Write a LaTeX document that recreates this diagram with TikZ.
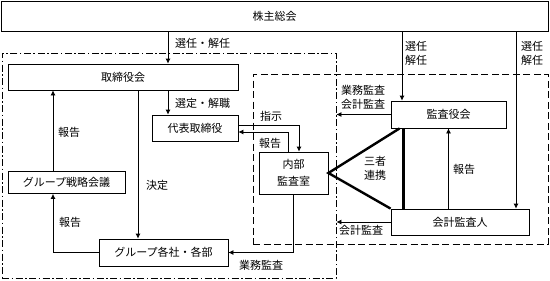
\documentclass[tikz,border=0pt]{standalone}
\usepackage{fontspec}
\newfontfamily\jpfont{Noto Sans CJK JP}
\usetikzlibrary{arrows.meta,calc,positioning}

\begin{document}
\begin{tikzpicture}[
  x=1pt,y=-1pt,
  font=\jpfont\fontsize{11}{14}\selectfont,
  organ/.style={draw,line width=0.8pt,fill=white,inner sep=0pt,align=center},
  tag/.style={anchor=west,inner sep=0pt,align=left},
  execarea/.style={draw,line width=0.8pt,inner sep=0pt,
    dash pattern=on 7pt off 2.5pt on 1.5pt off 2.5pt},
  auditarea/.style={draw,line width=0.8pt,inner sep=0pt,
    dash pattern=on 7pt off 3.5pt},
  arr/.style={-{Latex[length=5pt,width=5pt]},line width=0.8pt},
  link/.style={line width=2.4pt}
]
\useasboundingbox (0,0) rectangle (550,281);

% Areas behind the organs.
\node[execarea,minimum width=334pt,minimum height=225pt] (exec) at (169,165.5) {};
\node[auditarea,minimum width=295pt,minimum height=170pt] (audit) at (400.5,159) {};

% Organs.
\node[organ,minimum width=547pt,minimum height=30pt] (sh) at (274.5,16) {株主総会};
\node[organ,minimum width=230pt,minimum height=26pt] (board) at (123,77) {取締役会};
\node[organ,minimum width=86pt,minimum height=26pt] (rep) at (195,128) {代表取締役};
\node[organ,minimum width=69pt,minimum height=42pt] (naibu) at (293.5,173)
  {内部\\[3pt]監査室};
\node[organ,minimum width=115pt,minimum height=27pt] (kansa) at (448.5,114.5) {監査役会};
\node[organ,minimum width=138pt,minimum height=26pt] (kaikei) at (460,222) {会計監査人};
\node[organ,minimum width=117pt,minimum height=22pt] (strat) at (66.5,182.5) {グループ戦略会議};
\node[organ,minimum width=129pt,minimum height=27pt] (group) at (163.5,252.5) {グループ各社・各部};

% Columns of the vertical connectors.
\coordinate (colA) at (168,0);
\coordinate (colB) at (138,0);
\coordinate (colC) at (53,0);
\coordinate (colD) at (402,0);
\coordinate (colE) at (516,0);

% Executive side.
\draw[arr] (sh.south -| colA) -- (board.north -| colA);
\draw[arr] (board.south -| colA) -- (rep.north -| colA);
\draw[arr] (board.south -| colB) -- (group.north -| colB);
\draw[arr] (strat.north -| colC) -- (board.south -| colC);
\draw[arr] (group.west) -| (colC |- strat.south);
\draw[arr] ([yshift=3pt]rep.east) -| ([xshift=5.5pt]naibu.north);
\draw[arr] ([xshift=-5.5pt]naibu.north) |- ([yshift=-4pt]rep.east);
\draw[arr] (naibu.south) |- (group.east);

% Audit side.
\draw[arr] (sh.south -| colD) -- (kansa.north -| colD);
\draw[arr] (sh.south -| colE) -- (kaikei.north -| colE);
\draw[arr] (kansa.west) -- (kansa.west -| exec.east);
\draw[arr] (kaikei.west) -- (kaikei.west -| exec.east);
\draw[arr] (kaikei.north -| kansa.south) -- (kansa.south);
\draw[link] ([xshift=9pt]kansa.south west) -- (naibu.east) -- (kaikei.north west);
\draw[link] ([xshift=13pt]kansa.south west) -- ([xshift=13pt]kansa.south west |- kaikei.north);

% Connector labels.
\node[tag] (tSel) at (175,43) {選任・解任};
\node[tag] (tDis) at (175,103) {選定・解職};
\node[tag] (tRepA) at (58,132) {報告};
\node[tag] (tDec) at (146,185) {決定};
\node[tag] (tRepB) at (59,222) {報告};
\node[tag] (tOrd) at (260,116) {指示};
\node[tag] (tRepC) at (259,143) {報告};
\node[tag] (tOps) at (239,265) {業務監査};
\node[tag] (tAud) at (341,97) {業務監査\\会計監査};
\node[tag] (tAcc) at (339,230) {会計監査};
\foreach \n/\x in {tSelK/405,tSelA/521}
  \node[tag] (\n) at (\x,53) {選任\\解任};
\node[tag,anchor=center,align=center] (tTri) at (375,168) {三者\\連携};
\node[tag] (tRepD) at (453,169) {報告};
\end{tikzpicture}
\end{document}
